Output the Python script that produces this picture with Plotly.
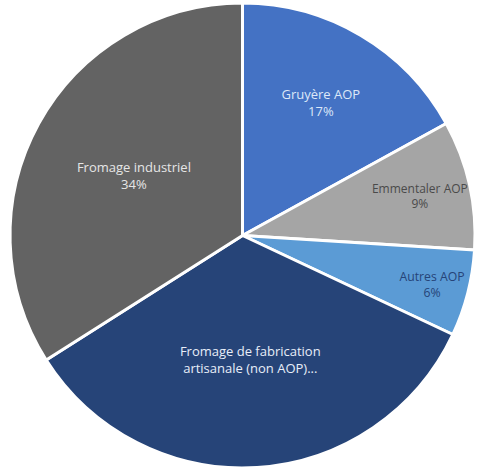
import plotly.graph_objects as go

labels = ["Gruyère AOP", "Emmentaler AOP", "Autres AOP",
          "Fromage de fabrication artisanale (non AOP)", "Fromage industriel"]
values = [17, 9, 6, 34, 34]
shown_text = ["Gruyère AOP<br>17%", "Emmentaler AOP<br>9%", "Autres AOP<br>6%",
              "Fromage de fabrication<br>artisanale (non AOP)...", "Fromage industriel<br>34%"]
colors = ["#4472C4", "#A5A5A5", "#5B9BD5", "#264478", "#636363"]
text_colors = ["#DDE8F8", "#4A4A4A", "#264478", "#E8EEF8", "#E6E6E6"]

fig = go.Figure(go.Pie(
    labels=labels, values=values, text=shown_text,
    texttemplate="%{text}", textposition="inside",
    insidetextorientation="horizontal",
    sort=False, direction="clockwise", rotation=0,
    marker=dict(colors=colors, line=dict(color="white", width=3)),
    insidetextfont=dict(color=text_colors, size=13, family="Open Sans"),
    showlegend=False, hoverinfo="label+percent",
))
fig.update_layout(
    width=485, height=472,
    margin=dict(l=2, r=2, t=3, b=4),
    paper_bgcolor="white",
)
fig.write_html("out.html")
